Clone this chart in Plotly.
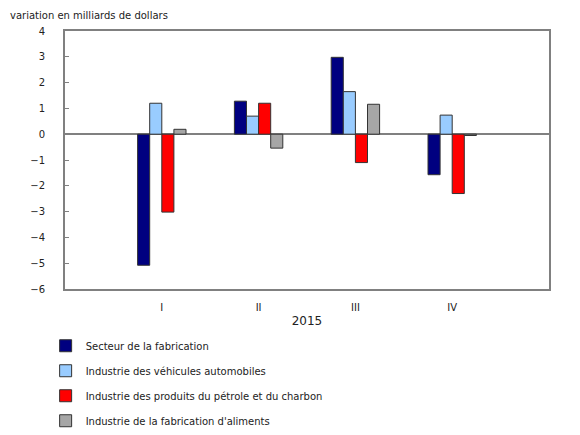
import plotly.graph_objects as go

# trimestres 2015
trimestres = ['I', 'II', 'III', 'IV']

# variation en milliards de dollars
fabrication = [-5.08, 1.28, 2.98, -1.57]
vehicules = [1.20, 0.70, 1.65, 0.74]
petrole = [-3.02, 1.20, -1.10, -2.30]
aliments = [0.19, -0.54, 1.16, -0.05]

noms = ['Secteur de la fabrication',
        'Industrie des véhicules automobiles',
        'Industrie des produits du pétrole et du charbon',
        "Industrie de la fabrication d'aliments"]
couleurs = ['#000080', '#99ccff', '#ff0000', '#a6a6a6']
series = [fabrication, vehicules, petrole, aliments]

fig = go.Figure()
for i, (nom, vals, c) in enumerate(zip(noms, series, couleurs)):
    fig.add_trace(go.Bar(
        x=trimestres, y=vals, name=nom, legendgroup=str(i),
        marker=dict(color=c, line=dict(color='#333333', width=1)),
    ))

# la page html ajoute une marge de 8px autour de la figure
fig.update_layout(
    width=572, height=427,
    margin=dict(l=57, r=31, t=23, b=146, autoexpand=False),
    plot_bgcolor='white', paper_bgcolor='white',
    font=dict(family='Verdana, DejaVu Sans, sans-serif', size=10, color='#222222'),
    barmode='group', bargap=0.5, bargroupgap=0,
    showlegend=True,
    legend=dict(x=-0.04, y=0.243, xref='paper', yref='container',
                xanchor='left', yanchor='top',
                tracegroupgap=6, font=dict(size=10)),
    annotations=[dict(text='variation en milliards de dollars', xref='paper', yref='paper',
                      x=-0.118, y=1.089, xanchor='left', yanchor='top',
                      showarrow=False, font=dict(size=10))],
    xaxis=dict(
        range=[-1, 4], showline=True, linecolor='#808080', linewidth=2, mirror=True,
        ticks='', ticklabelstandoff=8, title=dict(text='2015', standoff=5), showgrid=False,
    ),
    yaxis=dict(
        range=[-6, 4], dtick=1, showline=True, linecolor='#808080', linewidth=2, mirror=True,
        ticks='inside', ticklen=4, tickcolor='#808080', showgrid=False,
        ticklabelstandoff=16,
        zeroline=True, zerolinecolor='#808080', zerolinewidth=2,
    ),
)

fig.write_html("out.html")
